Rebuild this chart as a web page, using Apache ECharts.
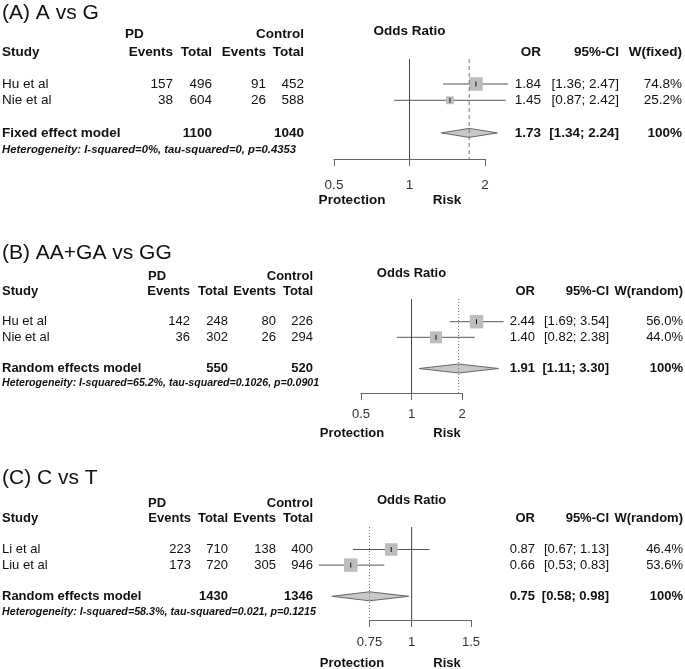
<!DOCTYPE html>
<html>
<head>
<meta charset="utf-8">
<script src="https://cdn.jsdelivr.net/npm/echarts@6/dist/echarts.min.js"></script>
<style>
  html, body { margin: 0; padding: 0; background: #fff; }
  #chart { width: 685px; height: 669px; }
</style>
</head>
<body>
<div id="chart"></div>
<script>
// (A) A vs G
const studiesA = ['Hu et al', 'Nie et al'];
const pdEventsA = [157, 38];
const pdTotalA = [496, 604];
const ctrlEventsA = [91, 26];
const ctrlTotalA = [452, 588];
const orA = [1.84, 1.45];
const lowerA = [1.36, 0.87];
const upperA = [2.47, 2.42];
const weightA = [74.8, 25.2];
const pooledA = [1.73, 1.34, 2.24];   // OR, lower, upper
const totalsA = [1100, 1040];
const hetA = 'Heterogeneity: I-squared=0%, tau-squared=0, p=0.4353';
const ticksA = [0.5, 1, 2];

// (B) AA+GA vs GG
const studiesB = ['Hu et al', 'Nie et al'];
const pdEventsB = [142, 36];
const pdTotalB = [248, 302];
const ctrlEventsB = [80, 26];
const ctrlTotalB = [226, 294];
const orB = [2.44, 1.40];
const lowerB = [1.69, 0.82];
const upperB = [3.54, 2.38];
const weightB = [56.0, 44.0];
const pooledB = [1.91, 1.11, 3.30];
const totalsB = [550, 520];
const hetB = 'Heterogeneity: I-squared=65.2%, tau-squared=0.1026, p=0.0901';
const ticksB = [0.5, 1, 2];

// (C) C vs T
const studiesC = ['Li et al', 'Liu et al'];
const pdEventsC = [223, 173];
const pdTotalC = [710, 720];
const ctrlEventsC = [138, 305];
const ctrlTotalC = [400, 946];
const orC = [0.87, 0.66];
const lowerC = [0.67, 0.53];
const upperC = [1.13, 0.83];
const weightC = [46.4, 53.6];
const pooledC = [0.75, 0.58, 0.98];
const totalsC = [1430, 1346];
const hetC = 'Heterogeneity: I-squared=58.3%, tau-squared=0.021, p=0.1215';
const ticksC = [0.75, 1, 1.5];

const FAM = '"Liberation Sans", Arial, Helvetica, sans-serif';
const TITLE = '21px ' + FAM;

// layout of each panel (pixels)
const panels = [
  {
    title: '(A) A vs G', model: 'Fixed effect model', wHead: 'W(fixed)', dash: [4, 3],
    studies: studiesA, pdEv: pdEventsA, pdTot: pdTotalA, ctEv: ctrlEventsA, ctTot: ctrlTotalA,
    or: orA, lo: lowerA, hi: upperA, w: weightA, pooled: pooledA, totals: totalsA, het: hetA, ticks: ticksA,
    fs: 13.5, hetFs: 11.3,
    axisL: 334, axisR: 485, rowY0: 84, step: 16.3, lineTop: 59, axisY: 159,
    titleY: 13, head1: 34, head2: 52, hetY: 150, labelMargin: 19, protY: 200,
    pdX: 125, ev1: 173, tot1: 212, ev2: 266, tot2: 304, orR: 541, ciR: 619, wR: 682
  },
  {
    title: '(B) AA+GA vs GG', model: 'Random effects model', wHead: 'W(random)', dash: [1, 2],
    studies: studiesB, pdEv: pdEventsB, pdTot: pdTotalB, ctEv: ctrlEventsB, ctTot: ctrlTotalB,
    or: orB, lo: lowerB, hi: upperB, w: weightB, pooled: pooledB, totals: totalsB, het: hetB, ticks: ticksB,
    fs: 13, hetFs: 10.6,
    axisL: 361, axisR: 462, rowY0: 321.7, step: 15.6, lineTop: 299, axisY: 393,
    titleY: 253, head1: 276, head2: 291.5, hetY: 383.5, labelMargin: 15, protY: 433,
    pdX: 148, ev1: 190, tot1: 228, ev2: 276, tot2: 313, orR: 535, ciR: 609, wR: 683
  },
  {
    title: '(C) C vs T', model: 'Random effects model', wHead: 'W(random)', dash: [1, 2],
    studies: studiesC, pdEv: pdEventsC, pdTot: pdTotalC, ctEv: ctrlEventsC, ctTot: ctrlTotalC,
    or: orC, lo: lowerC, hi: upperC, w: weightC, pooled: pooledC, totals: totalsC, het: hetC, ticks: ticksC,
    fs: 13, hetFs: 10.7,
    axisL: 369.5, axisR: 471, rowY0: 549.5, step: 15.6, lineTop: 527, axisY: 620,
    titleY: 478, head1: 503, head2: 518.5, hetY: 612, labelMargin: 16, protY: 663,
    pdX: 148, ev1: 191, tot1: 228, ev2: 276, tot2: 313, orR: 535, ciR: 609, wR: 683
  }
];

function txt(x, y, s, align, font) {
  return {
    type: 'text', x: x, y: y, silent: true,
    style: { text: String(s), font: font, fill: '#111',
      textAlign: align, textVerticalAlign: 'middle', align: align, verticalAlign: 'middle' }
  };
}

const grid = [], xAxis = [], yAxis = [], series = [], graphic = [];

panels.forEach(function (p, i) {
  const REG = p.fs + 'px ' + FAM;
  const BOLD = 'bold ' + p.fs + 'px ' + FAM;
  const HET = 'italic bold ' + p.hetFs + 'px ' + FAM;
  const lnMin = Math.log(p.ticks[0]);
  const lnMax = Math.log(p.ticks[p.ticks.length - 1]);
  const yMin = (p.lineTop - p.rowY0) / p.step;
  const yMax = (p.axisY - p.rowY0) / p.step;
  const pooledRow = 3;
  const maxW = Math.max.apply(null, p.w);

  grid.push({ left: p.axisL, width: p.axisR - p.axisL, top: p.lineTop, height: p.axisY - p.lineTop, outerBoundsMode: 'none' });
  xAxis.push({
    type: 'value', gridIndex: i, min: lnMin, max: lnMax, position: 'bottom',
    axisLine: { show: true, onZero: false, lineStyle: { color: '#666', width: 1 } },
    axisTick: { show: true, length: 7, customValues: p.ticks.map(Math.log), lineStyle: { color: '#666' } },
    axisLabel: {
      show: true, customValues: p.ticks.map(Math.log), margin: p.labelMargin,
      color: '#333', fontSize: p.fs, fontFamily: FAM, showMinLabel: true, showMaxLabel: true,
      formatter: function (v) {
        let best = p.ticks[0];
        p.ticks.forEach(function (t) { if (Math.abs(Math.log(t) - v) < Math.abs(Math.log(best) - v)) best = t; });
        return String(best);
      }
    },
    splitLine: { show: false }
  });
  yAxis.push({ type: 'value', gridIndex: i, inverse: true, min: yMin, max: yMax, show: false });

  // line of no effect
  series.push({
    type: 'line', xAxisIndex: i, yAxisIndex: i, data: [[0, yMin], [0, yMax]],
    symbol: 'none', silent: true, clip: false, lineStyle: { color: '#444', width: 1 }
  });
  // pooled estimate reference line
  series.push({
    type: 'line', xAxisIndex: i, yAxisIndex: i,
    data: [[Math.log(p.pooled[0]), yMin], [Math.log(p.pooled[0]), yMax]],
    symbol: 'none', silent: true, clip: false, lineStyle: { color: '#777', width: 1, type: p.dash }
  });
  // studies: CI line, weighted square, estimate tick
  series.push({
    type: 'custom', xAxisIndex: i, yAxisIndex: i, clip: false, silent: true,
    data: p.or.map(function (v, k) { return [Math.log(v), k, Math.log(p.lo[k]), Math.log(p.hi[k]), p.w[k]]; }),
    encode: { x: 0, y: 1 },
    renderItem: function (params, api) {
      const row = api.value(1);
      const c = api.coord([api.value(0), row]);
      const a = api.coord([api.value(2), row]);
      const b = api.coord([api.value(3), row]);
      const s = 13.5 * Math.sqrt(api.value(4) / maxW);
      return {
        type: 'group', children: [
          { type: 'line', shape: { x1: a[0], y1: c[1], x2: b[0], y2: c[1] }, style: { stroke: '#555', lineWidth: 1 } },
          { type: 'rect', shape: { x: c[0] - s / 2, y: c[1] - s / 2, width: s, height: s }, style: { fill: '#bdbdbd' } },
          { type: 'line', shape: { x1: c[0], y1: c[1] - 2.5, x2: c[0], y2: c[1] + 2.5 }, style: { stroke: '#111', lineWidth: 1 } }
        ]
      };
    }
  });
  // pooled diamond
  series.push({
    type: 'custom', xAxisIndex: i, yAxisIndex: i, clip: false, silent: true,
    data: [[Math.log(p.pooled[0]), pooledRow, Math.log(p.pooled[1]), Math.log(p.pooled[2])]],
    encode: { x: 0, y: 1 },
    renderItem: function (params, api) {
      const row = api.value(1);
      const c = api.coord([api.value(0), row]);
      const a = api.coord([api.value(2), row]);
      const b = api.coord([api.value(3), row]);
      return {
        type: 'polygon',
        shape: { points: [[a[0], c[1]], [c[0], c[1] - 4.5], [b[0], c[1]], [c[0], c[1] + 4.5]] },
        style: { fill: '#c8c8c8', stroke: '#666', lineWidth: 1 }
      };
    }
  });

  // table text
  const oneX = p.axisL + (0 - lnMin) / (lnMax - lnMin) * (p.axisR - p.axisL);
  graphic.push(txt(2, p.titleY, p.title, 'left', TITLE));
  graphic.push(txt(p.pdX, p.head1, 'PD', 'left', BOLD));
  graphic.push(txt(p.tot2, p.head1, 'Control', 'right', BOLD));
  graphic.push(txt(oneX, p.head1 - 3, 'Odds Ratio', 'center', BOLD));
  graphic.push(txt(2, p.head2, 'Study', 'left', BOLD));
  graphic.push(txt(p.ev1, p.head2, 'Events', 'right', BOLD));
  graphic.push(txt(p.tot1, p.head2, 'Total', 'right', BOLD));
  graphic.push(txt(p.ev2, p.head2, 'Events', 'right', BOLD));
  graphic.push(txt(p.tot2, p.head2, 'Total', 'right', BOLD));
  graphic.push(txt(p.orR, p.head2, 'OR', 'right', BOLD));
  graphic.push(txt(p.ciR, p.head2, '95%-CI', 'right', BOLD));
  graphic.push(txt(p.wR, p.head2, p.wHead, 'right', BOLD));

  p.studies.forEach(function (name, k) {
    const y = p.rowY0 + k * p.step;
    graphic.push(txt(2, y, name, 'left', REG));
    graphic.push(txt(p.ev1, y, p.pdEv[k], 'right', REG));
    graphic.push(txt(p.tot1, y, p.pdTot[k], 'right', REG));
    graphic.push(txt(p.ev2, y, p.ctEv[k], 'right', REG));
    graphic.push(txt(p.tot2, y, p.ctTot[k], 'right', REG));
    graphic.push(txt(p.orR, y, p.or[k].toFixed(2), 'right', REG));
    graphic.push(txt(p.ciR, y, '[' + p.lo[k].toFixed(2) + '; ' + p.hi[k].toFixed(2) + ']', 'right', REG));
    graphic.push(txt(p.wR, y, p.w[k].toFixed(1) + '%', 'right', REG));
  });

  const yp = p.rowY0 + pooledRow * p.step;
  graphic.push(txt(2, yp, p.model, 'left', BOLD));
  graphic.push(txt(p.tot1, yp, p.totals[0], 'right', BOLD));
  graphic.push(txt(p.tot2, yp, p.totals[1], 'right', BOLD));
  graphic.push(txt(p.orR, yp, p.pooled[0].toFixed(2), 'right', BOLD));
  graphic.push(txt(p.ciR, yp, '[' + p.pooled[1].toFixed(2) + '; ' + p.pooled[2].toFixed(2) + ']', 'right', BOLD));
  graphic.push(txt(p.wR, yp, '100%', 'right', BOLD));
  graphic.push(txt(2, p.hetY, p.het, 'left', HET));

  graphic.push(txt(352, p.protY, 'Protection', 'center', BOLD));
  graphic.push(txt(447, p.protY, 'Risk', 'center', BOLD));
});

const chart = echarts.init(document.getElementById('chart'), null, { renderer: 'canvas' });
chart.setOption({
  animation: false,
  backgroundColor: '#fff',
  grid: grid,
  xAxis: xAxis,
  yAxis: yAxis,
  series: series,
  graphic: graphic
});
</script>
</body>
</html>
